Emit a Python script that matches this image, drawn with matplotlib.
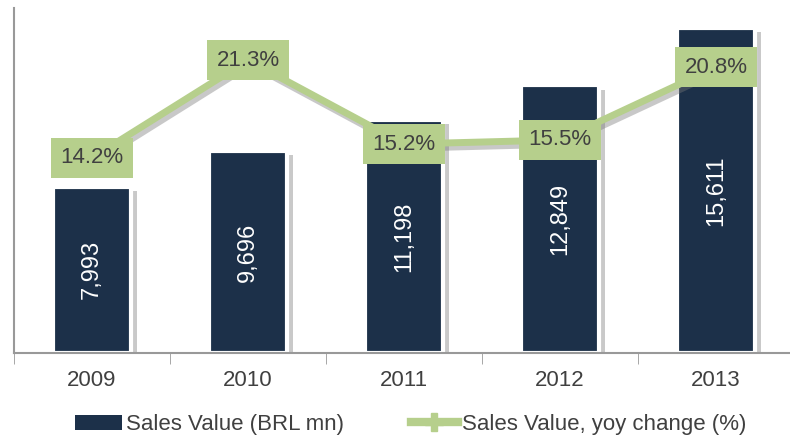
import matplotlib
matplotlib.use("Agg")
import matplotlib.pyplot as plt
import matplotlib.patheffects as pe
from matplotlib.lines import Line2D
from matplotlib.patches import Patch
import numpy as np

years = ["2009", "2010", "2011", "2012", "2013"]
sales = [7993, 9696, 11198, 12849, 15611]
yoy = [14.2, 21.3, 15.2, 15.5, 20.8]

NAVY = "#1c3049"
GREEN = "#b6cf8c"
TEXT = "#404040"

plt.rcParams["font.family"] = ["Liberation Sans Narrow", "Liberation Sans", "DejaVu Sans"]

fig = plt.figure(figsize=(7.9, 4.4), dpi=100)
ax = fig.add_axes([14 / 790, 87 / 440, 780 / 790, 345 / 440])
x = np.arange(len(years))

shadow = [pe.SimplePatchShadow(offset=(4, -3), shadow_rgbFace="#888888", alpha=0.45), pe.Normal()]
bars = ax.bar(x, sales, width=0.5, color=NAVY, edgecolor="white", linewidth=3,
              label="Sales Value (BRL mn)", zorder=2)
for b in bars:
    b.set_path_effects(shadow)
for xi, v in zip(x, sales):
    ax.text(xi, v / 2, f"{v:,}", rotation=90, ha="center", va="center",
            color="white", fontsize=17, zorder=3)

ax.set_xlim(-0.5, len(years) - 0.5)
ax.set_ylim(0, 16570)
ax.set_yticks([])
ax.set_xticks(x)
ax.set_xticklabels(years, fontsize=16, color=TEXT)
ax.tick_params(axis="x", which="major", length=0, pad=12)
ax.set_xticks(np.arange(-0.5, len(years), 1.0), minor=True)
ax.tick_params(axis="x", which="minor", length=8, color="#999999")
for s in ["top", "right"]:
    ax.spines[s].set_visible(False)
for s in ["left", "bottom"]:
    ax.spines[s].set_color("#999999")
    ax.spines[s].set_linewidth(1.5)

ax2 = ax.twinx()
ax2.set_ylim(0, 25.1)
ax2.axis("off")
ax2.plot(x, yoy, color=GREEN, linewidth=5, zorder=4,
         label="Sales Value, yoy change (%)",
         path_effects=[pe.SimpleLineShadow(offset=(2, -3), shadow_color="#777777", alpha=0.4), pe.Normal()])
for xi, v in zip(x, yoy):
    ax2.text(xi, v, f"{v:.1f}%", ha="center", va="center", fontsize=16, color=TEXT, zorder=5,
             bbox=dict(boxstyle="square,pad=0.42", facecolor=GREEN, edgecolor="none"))

handles = [Patch(facecolor=NAVY, edgecolor="none"),
           Line2D([0], [0], color=GREEN, linewidth=6, marker="P", markersize=13,
                  markerfacecolor=GREEN, markeredgecolor=GREEN)]
fig.legend(handles, ["Sales Value (BRL mn)", "Sales Value, yoy change (%)"],
           loc="center", bbox_to_anchor=(0.52, 0.035), ncol=2, frameon=False,
           fontsize=16, labelcolor=TEXT, handlelength=2.1, handletextpad=0.2,
           columnspacing=3.0)

fig.savefig("out.png", dpi=100)
